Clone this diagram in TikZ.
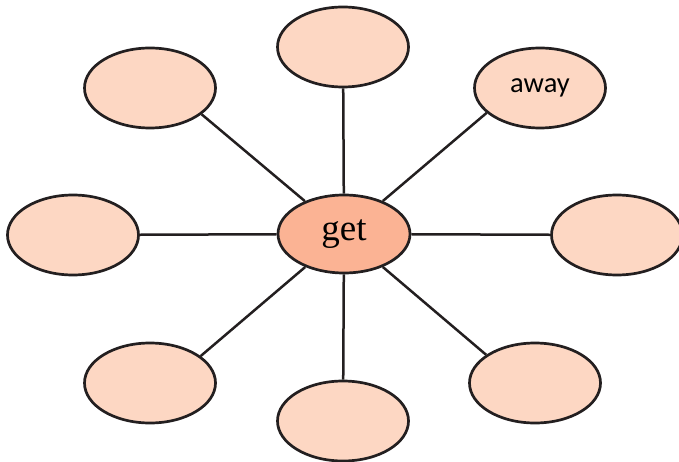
\documentclass[tikz,border=0pt]{standalone}
\usepackage{fontspec}
\setmainfont{Liberation Serif}
\newfontfamily\awayfont{Carlito}
\usetikzlibrary{shapes.geometric}
\definecolor{peach}{HTML}{FDD7C3}
\definecolor{peachdark}{HTML}{FBB394}
\definecolor{ink}{HTML}{231F20}
\begin{document}
\begin{tikzpicture}[x=1pt,y=-1pt,
  bubble/.style={ellipse,draw=ink,line width=2.7pt,fill=peach,minimum width=131pt,minimum height=80pt,inner sep=0pt},
  hub/.style={bubble,fill=peachdark,minimum width=132pt,minimum height=78pt,font=\fontsize{37}{40}\selectfont},
  spoke/.style={draw=ink,line width=2.5pt}]
\useasboundingbox (0,0) rectangle (679,462);
\clip (0,0) rectangle (679,462);
\node[hub] (get) at (344,234) {get};
\node[bubble] (top) at (343,47) {};
\node[bubble] (tl) at (150,88) {};
\node[bubble,font=\awayfont\fontsize{28.5}{31}\selectfont] (tr) at (540,88) {\raisebox{-3pt}{away}};
\node[bubble] (left) at (73,235) {};
\node[bubble] (right) at (617,235) {};
\node[bubble] (bl) at (150,383) {};
\node[bubble] (bot) at (343,421) {};
\node[bubble] (br) at (535,383) {};
\draw[spoke] (get) -- (top);
\draw[spoke] (get) -- (bot);
\draw[spoke] (get) -- (left);
\draw[spoke] (get) -- (right);
\draw[spoke] (get) -- (tl.-27);
\draw[spoke] (get) -- (tr.205);
\draw[spoke] (get) -- (bl.28);
\draw[spoke] (get) -- (br.150);
\end{tikzpicture}
\end{document}
